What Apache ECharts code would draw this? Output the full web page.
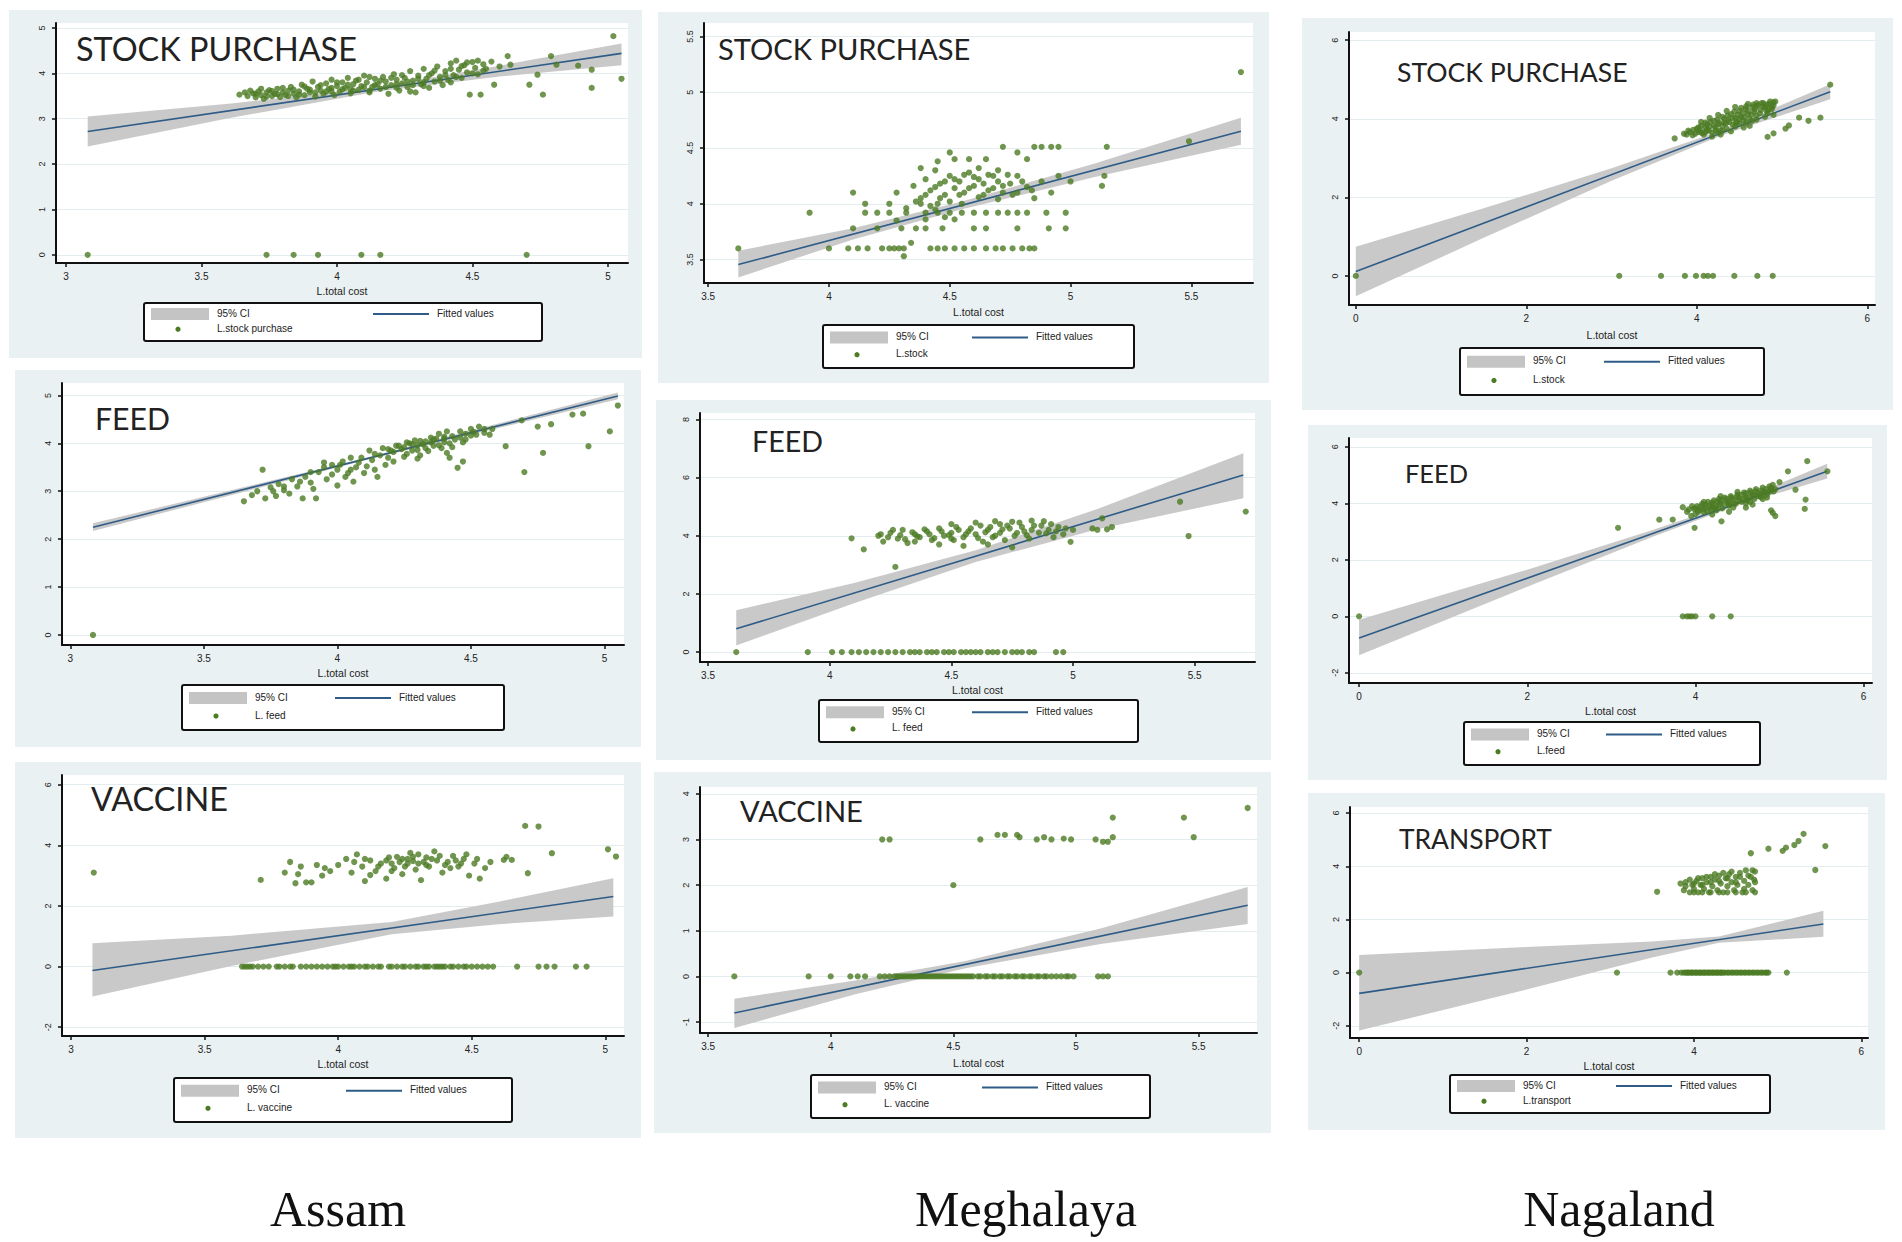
<!DOCTYPE html>
<html>
<head>
<meta charset="utf-8">
<script src="https://cdn.jsdelivr.net/npm/echarts@6/dist/echarts.min.js"></script>
<style>
  html, body { margin: 0; padding: 0; background: #fff; width: 1902px; height: 1242px; overflow: hidden; }
  .panel { position: absolute; background: #eaf1f3; }
  .state { position: absolute; font-family: 'Liberation Serif', 'Times New Roman', serif; font-size: 50px;
           line-height: 1; color: #111; transform: translateX(-50%); white-space: nowrap; }
</style>
</head>
<body>
<div class="state" style="left:338px;top:1184px">Assam</div>
<div class="state" style="left:1026px;top:1184px">Meghalaya</div>
<div class="state" style="left:1619px;top:1184px">Nagaland</div>
<script>
/* ============================================================
   Log cost regressions — Assam / Meghalaya / Nagaland
   scatter + fitted line + 95% CI band, one chart per panel
   ============================================================ */

// ---------- tick labels ----------
const ticksXAssam = [3, 3.5, 4, 4.5, 5];
const ticksXMegh = [3.5, 4, 4.5, 5, 5.5];
const ticksXNaga = [0, 2, 4, 6];
const ticksYAssamStock = [0, 1, 2, 3, 4, 5];
const ticksYMeghStock = [3.5, 4, 4.5, 5, 5.5];
const ticksYNagaStock = [0, 2, 4, 6];
const ticksYAssamFeed = [0, 1, 2, 3, 4, 5];
const ticksYMeghFeed = [0, 2, 4, 6, 8];
const ticksYNagaFeed = [-2, 0, 2, 4, 6];
const ticksYAssamVacc = [-2, 0, 2, 4, 6];
const ticksYMeghVacc = [-1, 0, 1, 2, 3, 4];
const ticksYNagaTrans = [-2, 0, 2, 4, 6];

// ---------- observations [L.total cost, L.item] ----------
const assamStock = [
  [3.08,0],[3.74,0],[3.84,0],[3.93,0],[4.09,0],[4.16,0],[4.70,0],
  [3.64,3.53],[3.67,3.50],[3.69,3.56],[3.70,3.47],[3.71,3.60],[3.72,3.52],[3.73,3.44],[3.74,3.58],[3.75,3.63],
  [3.76,3.50],[3.77,3.55],[3.78,3.66],[3.79,3.48],[3.80,3.58],[3.81,3.52],[3.82,3.62],[3.83,3.70],[3.84,3.55],
  [3.85,3.47],[3.86,3.60],[3.87,3.75],[3.88,3.52],[3.89,3.66],[3.90,3.58],[3.91,3.82],[3.92,3.49],[3.93,3.70],
  [3.94,3.62],[3.95,3.55],[3.96,3.78],[3.97,3.66],[3.98,3.86],[3.99,3.52],[4.00,3.72],[4.01,3.60],[4.02,3.80],
  [4.03,3.68],[4.04,3.90],[4.05,3.56],[4.06,3.76],[4.07,3.84],[4.08,3.64],[4.09,3.72],[4.10,3.95],[4.11,3.80],
  [4.12,3.58],[4.13,3.70],[4.14,3.88],[4.15,3.76],[4.16,3.66],[4.17,3.92],[4.18,3.82],[4.19,3.55],[4.20,3.74],
  [4.21,3.98],[4.22,3.86],[4.23,3.62],[4.24,3.78],[4.25,3.90],[4.26,3.70],[4.27,4.05],[4.28,3.84],[4.29,3.58],
  [4.30,3.95],[4.31,3.76],[4.32,4.10],[4.33,3.88],[4.34,3.68],[4.35,4.00],[4.36,3.82],[4.37,4.15],[4.38,3.92],
  [4.39,3.74],[4.40,4.05],[4.41,3.86],[4.42,4.22],[4.43,3.96],[4.44,4.28],[4.45,4.08],[4.46,3.90],[4.47,4.18],
  [4.48,4.02],[4.49,3.53],[4.50,4.25],[4.51,4.12],[4.52,3.98],[4.53,3.53],[4.54,4.20],[4.55,4.10],[4.57,4.26],
  [3.66,3.58],[3.68,3.62],[3.70,3.55],[3.72,3.66],[3.74,3.49],[3.76,3.61],[3.78,3.54],[3.80,3.68],[3.82,3.50],
  [3.84,3.64],[3.86,3.53],[3.88,3.71],[3.90,3.64],[3.92,3.58],[3.94,3.74],[3.96,3.60],[3.98,3.68],[4.00,3.80],
  [4.02,3.65],[4.04,3.75],[4.06,3.62],[4.08,3.86],[4.10,3.70],[4.12,3.92],[4.14,3.74],[4.16,3.84],[4.18,3.70],
  [4.20,3.90],[4.22,3.76],[4.24,3.96],[4.26,3.82],[4.28,3.74],[4.30,3.88],[4.32,3.80],[4.34,3.96],[4.36,4.06],
  [4.38,3.84],[4.40,3.96],[4.42,4.10],[4.44,3.92],[4.46,4.16],[4.48,4.24],[4.50,4.00],[4.52,4.28],[4.54,4.06],
  [4.12,3.62],[4.22,3.68],[4.32,3.72],[4.42,3.80],[4.27,3.60],[3.98,3.60],[4.05,3.65],
  [4.58,3.75],[4.60,4.15],[4.63,4.38],[4.64,4.19],[4.71,3.75],[4.74,3.97],[4.76,3.53],[4.79,4.38],[4.81,4.19],
  [4.89,4.17],[4.94,4.08],[4.94,3.68],[5.02,4.82],[5.05,3.88]
];
const meghStock = [
  [3.625,3.60],[4.00,3.60],[4.08,3.60],[4.12,3.60],[4.16,3.60],[4.22,3.60],[4.25,3.60],[4.27,3.60],[4.29,3.60],
  [4.31,3.60],[4.42,3.60],[4.45,3.60],[4.48,3.60],[4.52,3.60],[4.56,3.60],[4.60,3.60],[4.65,3.60],[4.69,3.60],
  [4.72,3.60],[4.76,3.60],[4.80,3.60],[4.83,3.60],[4.85,3.60],[4.31,3.53],[4.34,3.65],
  [4.10,3.78],[4.20,3.78],[4.30,3.78],[4.36,3.78],[4.40,3.78],[4.47,3.78],[4.60,3.78],[4.65,3.78],[4.78,3.78],
  [4.91,3.78],[4.98,3.78],
  [3.92,3.92],[4.15,3.92],[4.20,3.92],[4.25,3.92],[4.32,3.92],[4.40,3.92],[4.45,3.92],[4.50,3.92],[4.55,3.92],
  [4.60,3.92],[4.65,3.92],[4.70,3.92],[4.74,3.92],[4.78,3.92],[4.82,3.92],[4.90,3.92],[4.98,3.92],
  [4.15,4.00],[4.25,4.00],[4.38,4.00],[4.45,4.00],[4.10,4.10],
  [4.28,4.10],[4.35,4.16],[4.38,4.05],[4.40,4.22],[4.42,4.12],[4.44,4.30],[4.46,4.18],[4.48,4.08],[4.50,4.25],
  [4.52,4.14],[4.54,4.20],[4.56,4.10],[4.58,4.28],[4.60,4.16],[4.62,4.22],[4.64,4.08],[4.66,4.26],[4.68,4.14],
  [4.70,4.20],[4.72,4.10],[4.75,4.18],[4.78,4.25],[4.82,4.15],[4.85,4.05],[4.88,4.20],[4.92,4.10],[4.95,4.25],
  [5.00,4.20],
  [4.36,4.02],[4.40,4.08],[4.42,3.98],[4.44,4.15],[4.46,4.05],[4.48,4.20],[4.50,4.02],[4.52,4.22],[4.54,4.08],
  [4.56,4.26],[4.58,4.14],[4.60,4.24],[4.62,4.06],[4.64,4.18],[4.66,4.12],[4.68,4.25],[4.70,4.04],[4.72,4.16],
  [4.74,4.26],[4.76,4.08],[4.80,4.20],[4.84,4.12],[4.44,3.95],[4.48,3.88],[4.55,4.00],[4.62,4.32],[4.70,4.30],
  [4.78,4.10],[4.52,3.86],[4.40,3.86],[4.32,3.96],[4.28,3.85],
  [4.38,4.32],[4.45,4.38],[4.50,4.46],[4.52,4.40],[4.58,4.40],[4.65,4.40],[4.72,4.51],[4.78,4.46],[4.82,4.40],
  [4.85,4.51],[4.88,4.51],[4.92,4.51],[4.95,4.51],
  [5.15,4.51],[5.14,4.25],[5.13,4.16],[5.49,4.56],[5.705,5.18]
];
const nagaStock = [
  [0,0],[3.09,0],[3.58,0],[3.86,0],[3.99,0],[4.08,0],[4.13,0],[4.19,0],[4.44,0],[4.71,0],[4.89,0],
  [3.74,3.50],[3.85,3.62],[3.90,3.70],[3.95,3.58],[4.00,3.75],[4.02,3.66],[4.05,3.82],[4.08,3.60],[4.10,3.90],
  [4.12,3.72],[4.15,3.80],[4.18,3.65],[4.20,3.95],[4.22,3.78],[4.25,3.86],[4.27,3.70],[4.30,4.05],[4.32,3.90],
  [4.35,3.75],[4.37,3.98],[4.40,4.12],[4.42,3.85],[4.45,4.02],[4.47,3.92],[4.50,4.20],[4.52,4.05],[4.55,3.95],
  [4.57,4.25],[4.60,4.12],[4.62,4.00],[4.65,4.30],[4.67,4.18],[4.70,4.08],[4.72,4.35],[4.75,4.22],[4.78,4.40],
  [4.80,4.30],[4.83,4.15],[4.85,4.38],[4.88,4.25],[4.90,4.42],[4.18,3.55],[4.28,3.60],[4.40,3.68],[4.55,3.78],
  [4.62,3.82],[4.05,3.92],[4.15,4.02],[4.25,4.10],[4.35,4.20],[4.45,4.30],[4.60,4.38],[4.70,4.40],
  [3.88,3.60],[3.92,3.66],[3.96,3.72],[3.98,3.62],[4.02,3.78],[4.04,3.70],[4.06,3.64],[4.10,3.78],[4.12,3.86],
  [4.14,3.70],[4.16,3.92],[4.20,3.82],[4.22,3.70],[4.24,3.98],[4.26,3.90],[4.30,3.82],[4.32,4.00],[4.34,3.88],
  [4.36,4.08],[4.38,3.92],[4.42,4.02],[4.44,4.18],[4.46,3.90],[4.48,4.10],[4.50,4.00],[4.52,4.28],[4.54,4.14],
  [4.56,4.04],[4.58,4.32],[4.60,4.20],[4.64,4.10],[4.66,4.36],[4.68,4.24],[4.70,4.32],[4.74,4.14],[4.76,4.40],
  [4.78,4.30],[4.82,4.36],[4.84,4.24],[4.86,4.44],[4.90,4.34],[4.92,4.44],[4.30,3.70],[4.45,3.80],[4.50,3.88],
  [4.58,3.90],[4.65,3.95],[4.70,3.98],[4.80,4.05],[4.90,4.10],[4.10,3.65],[4.25,3.65],[4.82,4.20],[4.88,4.30],
  [4.83,3.54],[4.90,3.63],[5.04,3.75],[5.08,3.83],[5.20,4.03],[5.31,3.95],[5.45,4.03],[5.565,4.87]
];
const assamFeed = [
  [3.085,0],
  [3.65,2.79],[3.68,2.92],[3.70,3.00],[3.72,3.45],[3.73,2.85],[3.75,3.08],[3.77,2.90],[3.78,3.15],[3.80,3.02],
  [3.82,2.95],[3.83,3.25],[3.85,3.10],[3.87,2.85],[3.88,3.30],[3.90,3.18],[3.92,2.85],[3.93,3.40],[3.95,3.50],
  [3.96,3.25],[3.98,3.35],[4.00,3.12],[4.01,3.55],[4.03,3.30],[4.05,3.45],[4.06,3.20],[4.08,3.60],[4.10,3.38],
  [4.11,3.52],[4.13,3.65],[4.15,3.30],[4.16,3.75],[4.18,3.55],[4.20,3.85],[4.21,3.62],[4.23,3.95],[4.25,3.72],
  [4.26,4.02],[4.28,3.85],[4.30,3.68],[4.31,4.05],[4.33,3.90],[4.35,4.12],[4.36,3.95],[4.38,4.20],[4.40,4.02],
  [4.41,3.80],[4.43,4.15],[4.45,3.49],[4.46,4.25],[4.48,4.08],[4.50,4.30],[4.52,4.18],[4.53,4.35],[4.55,4.22],
  [4.58,4.30],[4.30,3.96],[4.35,4.02],[4.40,4.10],[4.22,3.95],[4.27,4.00],[4.12,3.85],[3.95,3.60],[4.05,3.70],
  [4.47,3.62],[4.42,3.70],
  [4.14,3.78],[4.17,3.90],[4.19,3.70],[4.21,3.82],[4.24,3.88],[4.26,3.78],[4.28,3.98],[4.30,3.86],[4.32,3.98],
  [4.34,3.84],[4.36,4.08],[4.38,3.96],[4.40,4.14],[4.42,4.00],[4.44,4.08],[4.46,4.12],[4.48,4.20],[4.50,4.16],
  [4.33,4.04],[4.37,4.10],[4.25,3.92],[4.29,4.06],[4.41,4.25],[4.39,3.90],[4.00,3.45],[4.02,3.62],[4.07,3.50],
  [4.09,3.70],[3.98,3.55],[3.90,3.40],[3.86,3.20],[3.80,3.10],[3.76,3.00],[3.91,3.05],[4.04,3.38],[4.14,3.45],
  [4.19,3.88],[4.31,3.75],[4.43,3.92],[4.47,4.02],[4.55,4.30],[4.57,4.18],[4.51,4.24],
  [4.63,3.94],[4.69,4.48],[4.70,3.40],[4.77,3.80],[4.75,4.35],[4.80,4.40],[4.88,4.60],[4.92,4.62],[4.94,3.94],
  [5.02,4.25],[5.05,4.79]
];
const meghFeed = [
  [3.616,0],[3.91,0],[4.01,0],[4.05,0],[4.09,0],[4.12,0],[4.15,0],[4.18,0],[4.21,0],[4.24,0],[4.27,0],[4.30,0],
  [4.33,0],[4.35,0],[4.37,0],[4.40,0],[4.42,0],[4.44,0],[4.47,0],[4.49,0],[4.51,0],[4.54,0],[4.56,0],[4.58,0],
  [4.60,0],[4.62,0],[4.65,0],[4.67,0],[4.69,0],[4.72,0],[4.75,0],[4.77,0],[4.79,0],[4.82,0],[4.84,0],[4.93,0],
  [4.96,0],
  [4.09,3.91],[4.14,3.53],[4.27,2.93],[4.20,4.00],[4.22,3.80],[4.25,4.10],[4.28,3.90],[4.30,4.20],[4.32,3.75],
  [4.35,4.05],[4.37,3.95],[4.40,4.15],[4.42,3.85],[4.45,4.25],[4.47,4.00],[4.50,3.90],[4.50,4.10],[4.52,4.30],
  [4.55,3.95],[4.57,4.15],[4.60,4.05],[4.62,4.35],[4.63,3.80],[4.65,4.20],[4.67,3.95],[4.70,4.40],[4.70,4.10],
  [4.72,3.85],[4.74,4.25],[4.76,4.00],[4.78,4.45],[4.80,4.15],[4.82,3.90],[4.84,4.35],[4.86,4.10],[4.88,4.50],
  [4.90,4.20],[4.92,3.95],[4.94,4.30],[4.96,4.05],[4.99,3.79],[5.00,4.20],[4.55,3.65],[4.65,3.70],[4.75,3.60],
  [4.45,3.70],[4.35,3.80],
  [4.21,4.05],[4.24,3.95],[4.26,4.20],[4.29,4.02],[4.31,3.88],[4.34,4.12],[4.36,3.98],[4.39,4.22],[4.41,4.05],
  [4.43,3.92],[4.46,4.15],[4.49,4.02],[4.51,3.85],[4.53,4.20],[4.56,4.05],[4.58,4.25],[4.61,3.92],[4.64,4.12],
  [4.66,4.30],[4.68,4.00],[4.71,4.22],[4.73,4.35],[4.77,4.10],[4.79,4.30],[4.81,4.02],[4.83,4.20],[4.87,4.35],
  [4.89,4.08],[4.91,4.40],[4.93,4.15],[4.97,4.25],[4.60,4.45],[4.68,4.50],[4.75,4.48],[4.83,4.52],[4.50,4.40],
  [5.08,4.25],[5.10,4.20],[5.12,4.60],[5.14,4.22],[5.16,4.30],[5.44,5.17],[5.475,3.99],[5.71,4.83]
];
const nagaFeed = [
  [0,0],[3.85,0],[3.90,0],[3.93,0],[3.96,0],[4.00,0],[4.20,0],[4.42,0],
  [3.85,3.86],[3.90,3.70],[3.95,3.55],[3.98,3.80],[4.00,3.62],[4.02,3.90],[4.05,3.75],[4.08,3.98],[4.10,3.68],
  [4.12,3.85],[4.15,4.05],[4.18,3.78],[4.20,3.95],[4.22,4.10],[4.25,3.88],[4.28,4.15],[4.30,4.00],[4.32,3.82],
  [4.35,4.20],[4.38,4.05],[4.40,3.92],[4.42,4.25],[4.45,4.12],[4.48,3.98],[4.50,4.30],[4.52,4.18],[4.55,4.05],
  [4.58,4.38],[4.60,4.22],[4.62,4.10],[4.65,4.45],[4.68,4.28],[4.70,4.15],[4.72,4.50],[4.75,4.35],[4.78,4.22],
  [4.80,4.55],[4.82,4.40],[4.85,4.30],[4.88,4.60],[4.90,4.45],[4.92,4.65],[4.95,4.50],[3.99,3.13],[4.31,3.36],
  [4.68,3.95],[4.92,3.66],[4.95,3.55],[4.90,3.75],[4.60,3.85],[4.40,3.70],[4.20,3.60],
  [3.92,3.78],[3.96,3.90],[4.00,3.82],[4.03,3.70],[4.06,3.88],[4.09,3.80],[4.12,3.95],[4.14,3.72],[4.17,3.90],
  [4.20,4.02],[4.23,3.82],[4.26,4.05],[4.28,3.94],[4.31,4.12],[4.34,3.98],[4.37,4.15],[4.40,4.05],[4.43,4.20],
  [4.46,4.00],[4.49,4.22],[4.52,4.10],[4.55,4.30],[4.58,4.15],[4.60,4.35],[4.63,4.22],[4.66,4.38],[4.69,4.30],
  [4.72,4.42],[4.75,4.25],[4.78,4.45],[4.80,4.35],[4.84,4.50],[4.87,4.40],[4.90,4.55],[4.93,4.42],[4.10,4.05],
  [4.30,4.25],[4.50,4.40],[4.25,3.75],[4.45,3.85],[4.65,4.05],[4.85,4.20],[4.20,3.85],[4.40,3.95],[4.60,4.00],
  [4.80,4.15],
  [3.08,3.13],[3.57,3.42],[3.73,3.42],[5.10,5.13],[5.19,4.48],[5.31,4.13],[5.30,3.80],[5.33,5.49],[5.57,5.13],
  [5.00,4.75]
];
const assamVacc = [
  [3.085,3.10],
  [3.64,0],[3.65,0],[3.66,0],[3.67,0],[3.68,0],[3.70,0],[3.72,0],[3.74,0],[3.77,0],[3.78,0],[3.80,0],[3.82,0],
  [3.83,0],[3.86,0],[3.88,0],[3.90,0],[3.92,0],[3.94,0],[3.96,0],[3.98,0],[3.99,0],[4.00,0],[4.02,0],[4.04,0],
  [4.05,0],[4.06,0],[4.08,0],[4.10,0],[4.11,0],[4.13,0],[4.15,0],[4.16,0],[4.19,0],[4.20,0],[4.22,0],[4.24,0],
  [4.25,0],[4.27,0],[4.29,0],[4.30,0],[4.32,0],[4.33,0],[4.34,0],[4.36,0],[4.37,0],[4.38,0],[4.39,0],[4.40,0],
  [4.42,0],[4.43,0],[4.45,0],[4.47,0],[4.48,0],[4.50,0],[4.52,0],[4.54,0],[4.56,0],[4.58,0],
  [4.67,0],[4.75,0],[4.78,0],[4.81,0],[4.89,0],[4.93,0],
  [3.71,2.86],[3.80,3.10],[3.82,3.45],[3.84,2.75],[3.86,3.30],[3.88,2.78],[3.90,2.78],[3.92,3.35],[3.94,3.00],
  [3.97,3.15],[4.00,3.35],[4.03,3.55],[4.05,3.10],[4.07,3.70],[4.09,3.30],[4.10,2.82],[4.12,3.50],[4.14,3.15],
  [4.16,3.40],[4.18,2.90],[4.19,3.60],[4.21,3.25],[4.23,3.45],[4.24,3.05],[4.26,3.55],[4.27,3.75],[4.29,3.20],
  [4.30,3.40],[4.31,2.85],[4.33,3.60],[4.34,3.30],[4.36,3.80],[4.37,3.50],[4.39,3.10],[4.41,3.45],[4.43,3.65],
  [4.45,3.30],[4.47,3.55],[4.49,3.00],[4.51,3.40],[4.53,2.90],[4.55,3.25],[4.57,3.45],[4.62,3.52],[4.63,3.62],
  [4.65,3.52],[4.18,3.50],[4.25,3.30],[4.32,3.45],[4.40,3.35],[4.28,3.62],[4.20,3.40],
  [4.10,3.55],[4.15,3.30],[4.22,3.62],[4.26,3.40],[4.30,3.70],[4.33,3.35],[4.35,3.55],[4.38,3.65],[4.42,3.25],
  [4.44,3.50],[4.46,3.40],[4.28,3.48],[4.24,3.55],[4.06,3.45],[3.95,3.25],[3.85,3.05],[4.48,3.70],[4.52,3.55],
  [4.20,3.15],[4.12,3.02],
  [4.70,4.64],[4.75,4.62],[4.71,3.08],[4.80,3.74],[5.01,3.87],[5.04,3.63]
];
const meghVacc = [
  [3.607,0],[3.91,0],[4.00,0],[4.08,0],[4.11,0],[4.14,0],[4.20,0],[4.22,0],[4.24,0],[4.26,0],[4.27,0],[4.28,0],
  [4.29,0],[4.30,0],[4.31,0],[4.32,0],[4.33,0],[4.34,0],[4.35,0],[4.36,0],[4.37,0],[4.38,0],[4.39,0],[4.40,0],
  [4.41,0],[4.42,0],[4.43,0],[4.44,0],[4.45,0],[4.46,0],[4.47,0],[4.48,0],[4.49,0],[4.50,0],[4.51,0],[4.52,0],
  [4.53,0],[4.54,0],[4.55,0],[4.56,0],[4.57,0],[4.58,0],[4.60,0],[4.61,0],[4.63,0],[4.64,0],[4.66,0],[4.67,0],
  [4.69,0],[4.70,0],[4.72,0],[4.73,0],[4.75,0],[4.76,0],[4.78,0],[4.79,0],[4.81,0],[4.82,0],[4.84,0],[4.85,0],
  [4.87,0],[4.88,0],[4.90,0],[4.92,0],[4.94,0],[4.96,0],[4.97,0],[4.99,0],[5.09,0],[5.11,0],[5.13,0],
  [4.50,2.00],[4.21,3.00],[4.24,3.00],[4.61,3.00],[4.68,3.10],[4.71,3.10],[4.76,3.10],[4.77,3.05],[4.84,3.00],
  [4.87,3.05],[4.90,3.00],[4.95,3.02],[4.98,3.00],[5.08,3.00],[5.11,2.95],[5.13,2.95],[5.15,3.05],[5.15,3.48],
  [5.44,3.48],[5.48,3.05],[5.70,3.69]
];
const nagaTrans = [
  [0,0],[3.08,0],[3.72,0],[3.80,0],[3.85,0],[3.88,0],[3.90,0],[3.92,0],[3.93,0],[3.95,0],[3.97,0],[3.98,0],
  [4.00,0],[4.02,0],[4.03,0],[4.05,0],[4.07,0],[4.08,0],[4.10,0],[4.12,0],[4.13,0],[4.15,0],[4.17,0],[4.18,0],
  [4.20,0],[4.22,0],[4.23,0],[4.25,0],[4.27,0],[4.28,0],[4.30,0],[4.32,0],[4.33,0],[4.35,0],[4.37,0],[4.40,0],
  [4.42,0],[4.45,0],[4.47,0],[4.50,0],[4.52,0],[4.55,0],[4.57,0],[4.60,0],[4.62,0],[4.65,0],[4.67,0],[4.70,0],
  [4.72,0],[4.75,0],[4.77,0],[4.80,0],[4.82,0],[4.85,0],[4.87,0],[4.89,0],[5.11,0],
  [3.56,3.04],[3.84,3.35],[3.88,3.10],[3.90,3.40],[3.95,3.02],[3.98,3.30],[4.00,3.15],[4.03,3.45],[4.05,3.02],
  [4.08,3.30],[4.10,3.55],[4.12,3.15],[4.15,3.40],[4.18,3.02],[4.20,3.60],[4.22,3.25],[4.25,3.50],[4.28,3.10],
  [4.30,3.65],[4.32,3.35],[4.35,3.02],[4.38,3.55],[4.40,3.25],[4.42,3.70],[4.45,3.40],[4.48,3.10],[4.50,3.60],
  [4.52,3.30],[4.55,3.75],[4.58,3.02],[4.60,3.45],[4.62,3.85],[4.65,3.30],[4.68,3.60],[4.70,3.10],[4.72,3.50],
  [4.73,3.02],[4.73,3.80],
  [3.90,3.25],[3.95,3.50],[4.00,3.35],[4.05,3.55],[4.10,3.30],[4.15,3.60],[4.20,3.40],[4.25,3.70],[4.30,3.45],
  [4.35,3.75],[4.40,3.55],[4.45,3.80],[4.50,3.40],[4.55,3.60],[4.60,3.15],[4.65,3.65],[4.70,3.85],[4.73,3.40],
  [4.00,3.02],[4.10,3.02],[4.20,3.02],[4.30,3.02],[4.40,3.02],[4.50,3.02],[4.62,3.02],
  [4.68,4.49],[4.89,4.66],[5.06,4.58],[5.10,4.70],[5.20,4.80],[5.25,4.95],[5.31,5.22],[5.45,3.86],[5.57,4.76]
];

// ---------- fitted values (end points) ----------
const assamStockFit = [[3.08, 2.72], [5.05, 4.44]];
const meghStockFit = [[3.625, 3.455], [5.705, 4.65]];
const nagaStockFit = [[0, 0.11], [5.565, 4.69]];
const assamFeedFit = [[3.085, 2.25], [5.05, 4.99]];
const meghFeedFit = [[3.616, 0.80], [5.70, 6.09]];
const nagaFeedFit = [[0, -0.77], [5.567, 5.13]];
const assamVaccFit = [[3.08, -0.13], [5.03, 2.31]];
const meghVaccFit = [[3.607, -0.80], [5.70, 1.56]];
const nagaTransFit = [[0, -0.78], [5.547, 1.83]];

// ---------- 95% CI [x, lower, upper] ----------
const assamStockCI = [[3.08,2.39,3.05],[3.6,3.01,3.33],[4.15,3.60,3.70],[4.6,3.93,4.17],[5.05,4.18,4.66]];
const meghStockCI = [[3.625,3.34,3.58],[4.1,3.68,3.78],[4.55,3.95,4.02],[5.1,4.24,4.36],[5.705,4.53,4.77]];
const nagaStockCI = [[0,-0.52,0.74],[1.5,0.97,1.72],[3,2.42,2.74],[4.3,3.59,3.71],[5.565,4.50,4.88]];
const assamFeedCI = [[3.085,2.17,2.33],[4.1,3.64,3.69],[5.05,4.92,5.06]];
const meghFeedCI = [[3.616,0.23,1.44],[4.1,1.68,2.38],[4.6,3.10,3.50],[5.1,4.22,4.92],[5.70,5.29,6.84]];
const nagaFeedCI = [[0,-1.38,-0.12],[2,1.05,1.65],[3.5,2.82,3.06],[4.5,3.93,4.07],[5.567,4.88,5.40]];
const assamVaccCI = [[3.08,-0.99,0.77],[3.6,0.02,1.02],[4.2,1.07,1.47],[4.6,1.40,2.14],[5.03,1.65,2.91]];
const meghVaccCI = [[3.607,-1.13,-0.49],[4.1,-0.39,-0.09],[4.55,0.18,0.34],[5.1,0.71,1.05],[5.70,1.15,1.96]];
const nagaTransCI = [[0,-2.18,0.66],[2,-0.64,0.96],[3.5,0.57,1.17],[4.3,1.12,1.36],[5.547,1.35,2.33]];

// ---------- style ----------
const GREEN = '#4b7b23';
const NAVY = '#2e5c87';
const BAND = '#c4c4c4';
const GRIDLINE = '#e3ecef';
const INK = '#222';
const TICKFONT = "'Liberation Sans', Arial, sans-serif";
const TITLEFONT = "Lato, 'Open Sans', sans-serif";

// panel layout (absolute page px): box = panel bg, plot = [x0,y0,x1,y1], leg = [x,y,w,h]
const PANELS = [
  { box:[9,10,633,348], plot:[56,23,628,263], x:[2.963,5.074], y:[-0.18,5.11], xt:ticksXAssam, yt:ticksYAssamStock,
    title:'STOCK PURCHASE', tx:76, tcy:53, tw:281, pts:assamStock, fit:assamStockFit, ci:assamStockCI,
    name:'L.stock purchase', leg:[144,303,398,38], legLine:229, xty:288 },
  { box:[658,12,611,371], plot:[704,23,1253,283], x:[3.483,5.755], y:[3.29,5.62], xt:ticksXMegh, yt:ticksYMeghStock,
    title:'STOCK PURCHASE', tx:718, tcy:52.5, tw:252, pts:meghStock, fit:meghStockFit, ci:meghStockCI,
    name:'L.stock', leg:[823,325,311,43], legLine:149, xty:312 },
  { box:[1302,18,591,392], plot:[1349,32,1875,305], x:[-0.08,6.09], y:[-0.74,6.21], xt:ticksXNaga, yt:ticksYNagaStock,
    title:'STOCK PURCHASE', tx:1397, tcy:75, tw:231, pts:nagaStock, fit:nagaStockFit, ci:nagaStockCI,
    name:'L.stock', leg:[1460,348,304,47], legLine:144, xty:335 },
  { box:[15,370,626,377], plot:[62,383,624,645], x:[2.969,5.073], y:[-0.21,5.26], xt:ticksXAssam, yt:ticksYAssamFeed,
    title:'FEED', tx:95, tcy:421.5, tw:75, pts:assamFeed, fit:assamFeedFit, ci:assamFeedCI,
    name:'L. feed', leg:[182,685,322,45], legLine:153, xty:672 },
  { box:[656,400,615,360], plot:[700,413,1255,662], x:[3.467,5.748], y:[-0.34,8.22], xt:ticksXMegh, yt:ticksYMeghFeed,
    title:'FEED', tx:752, tcy:444, tw:71, pts:meghFeed, fit:meghFeedFit, ci:meghFeedCI,
    name:'L. feed', leg:[819,700,319,42], legLine:153, xty:687 },
  { box:[1308,425,579,355], plot:[1349,438,1872,683], x:[-0.12,6.10], y:[-2.36,6.31], xt:ticksXNaga, yt:ticksYNagaFeed,
    title:'FEED', tx:1405, tcy:476, tw:63, pts:nagaFeed, fit:nagaFeedFit, ci:nagaFeedCI,
    name:'L.feed', leg:[1464,722,296,43], legLine:142, xty:708 },
  { box:[15,762,626,376], plot:[62,775,624,1036], x:[2.966,5.07], y:[-2.29,6.32], xt:ticksXAssam, yt:ticksYAssamVacc,
    title:'VACCINE', tx:91, tcy:802.5, tw:137, pts:assamVacc, fit:assamVaccFit, ci:assamVaccCI,
    name:'L. vaccine', leg:[174,1078,338,44], legLine:172, xty:1063 },
  { box:[654,772,617,361], plot:[700,787,1257,1033], x:[3.467,5.738], y:[-1.24,4.15], xt:ticksXMegh, yt:ticksYMeghVacc,
    title:'VACCINE', tx:740, tcy:814, tw:123, pts:meghVacc, fit:meghVaccFit, ci:meghVaccCI,
    name:'L. vaccine', leg:[811,1075,339,43], legLine:171, xty:1063 },
  { box:[1308,793,577,337], plot:[1350,807,1868,1038], x:[-0.11,6.08], y:[-2.46,6.23], xt:ticksXNaga, yt:ticksYNagaTrans,
    title:'TRANSPORT', tx:1399, tcy:842.5, tw:153, pts:nagaTrans, fit:nagaTransFit, ci:nagaTransCI,
    name:'L.transport', leg:[1450,1075,320,38], legLine:166, xty:1063 }
];

const measureCtx = document.createElement('canvas').getContext('2d');
function fitFontSize(text, width, family) {
  measureCtx.font = '100px ' + family;
  return 100 * width / measureCtx.measureText(text).width;
}

function legendGraphic(p) {
  const [lx, ly, lw, lh] = p.leg;
  const ox = lx - p.box[0], oy = ly - p.box[1];
  const r1 = oy + lh * 0.29, r2 = oy + lh * 0.69;
  const txt = (x, y, s) => ({ type: 'text', left: x, top: y - 6,
    style: { text: s, fill: INK, font: '10px ' + TICKFONT } });
  return [
    { type: 'rect', shape: { x: ox, y: oy, width: lw, height: lh, r: 2 },
      style: { fill: '#fff', stroke: '#111', lineWidth: 2 } },
    { type: 'rect', shape: { x: ox + 7, y: r1 - 6, width: 58, height: 12 }, style: { fill: BAND } },
    txt(ox + 73, r1, '95% CI'),
    { type: 'line', shape: { x1: ox + p.legLine, y1: r1, x2: ox + p.legLine + 56, y2: r1 },
      style: { stroke: NAVY, lineWidth: 2 } },
    txt(ox + p.legLine + 64, r1, 'Fitted values'),
    { type: 'circle', shape: { cx: ox + 34, cy: r2, r: 2.6 }, style: { fill: GREEN } },
    txt(ox + 73, r2, p.name)
  ];
}

function makePanel(p) {
  const el = document.createElement('div');
  el.className = 'panel';
  el.style.left = p.box[0] + 'px';
  el.style.top = p.box[1] + 'px';
  el.style.width = p.box[2] + 'px';
  el.style.height = p.box[3] + 'px';
  document.body.appendChild(el);
  const chart = echarts.init(el, null, { renderer: 'svg' });

  const tfs = fitFontSize(p.title, p.tw, TITLEFONT);
  const ci = p.ci;

  chart.setOption({
    animation: false,
    grid: { left: p.plot[0] - p.box[0], top: p.plot[1] - p.box[1],
            width: p.plot[2] - p.plot[0], height: p.plot[3] - p.plot[1],
            show: true, backgroundColor: '#fff', borderWidth: 0 },
    xAxis: {
      type: 'value', min: p.x[0], max: p.x[1],
      name: 'L.total cost', nameLocation: 'middle', nameGap: p.xty - p.plot[3] - 6,
      nameTextStyle: { color: INK, fontFamily: TICKFONT, fontSize: 10.5 },
      axisLine: { onZero: false, lineStyle: { color: '#111', width: 2 } },
      axisTick: { customValues: p.xt, length: 4, lineStyle: { color: '#111', width: 1.5 } },
      axisLabel: { customValues: p.xt, color: INK, fontFamily: TICKFONT, fontSize: 10, margin: 8 },
      splitLine: { show: false }
    },
    yAxis: {
      type: 'value', min: p.y[0], max: p.y[1],
      axisLine: { show: true, onZero: false, lineStyle: { color: '#111', width: 2 } },
      axisTick: { show: true, customValues: p.yt, length: 4, lineStyle: { color: '#111', width: 1.5 } },
      axisLabel: { customValues: p.yt, rotate: 90, color: INK, fontFamily: TICKFONT, fontSize: 9, margin: 10 },
      splitLine: { show: true, lineStyle: { color: GRIDLINE, width: 1.2 } }
    },
    graphic: [
      { type: 'text', left: p.tx - p.box[0], top: p.tcy - p.box[1] - tfs * 0.62,
        style: { text: p.title, fill: '#222', font: 'normal ' + tfs.toFixed(1) + 'px ' + TITLEFONT }, z: 10 }
    ].concat(legendGraphic(p)),
    series: [
      { type: 'custom', z: 1, silent: true, data: ci,
        encode: { x: 0, y: [1, 2] },
        renderItem: function (params, api) {
          if (params.dataIndex !== 0) return null;
          const up = ci.map(r => api.coord([r[0], r[2]]));
          const lo = ci.map(r => api.coord([r[0], r[1]])).reverse();
          return { type: 'polygon', shape: { points: up.concat(lo) }, style: { fill: BAND, opacity: 0.92 } };
        } },
      { type: 'line', z: 2, data: p.fit, showSymbol: false, silent: true,
        lineStyle: { color: NAVY, width: 1.6 } },
      { type: 'scatter', z: 3, data: p.pts, symbolSize: 6.2, silent: true,
        itemStyle: { color: GREEN } }
    ]
  });
  return chart;
}

PANELS.forEach(makePanel);
</script>
</body>
</html>
